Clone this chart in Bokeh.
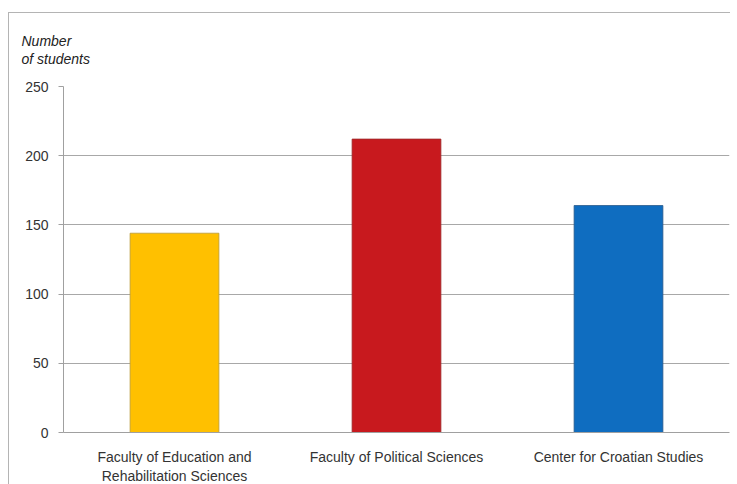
from bokeh.plotting import figure
from bokeh.models import FixedTicker, ColumnDataSource
from bokeh.embed import file_html
from bokeh.resources import INLINE

categories = ["Faculty of Education and\nRehabilitation Sciences",
              "Faculty of Political Sciences",
              "Center for Croatian Studies"]
students = [144, 212, 164]
bar_colors = ["#FFC000", "#C8191E", "#0F6DC0"]
line_colors = ["#B89A3A", "#9A2A2A", "#2A5A8A"]
y_ticks = [0, 50, 100, 150, 200, 250]
y_title = "Number\nof students"

src = ColumnDataSource(dict(cat=categories, n=students, c=bar_colors, lc=line_colors))

p = figure(x_range=categories, y_range=(0, 250), width=722, height=473,
           output_backend="svg", toolbar_location=None, tools="",
           min_border_left=54, min_border_right=2, min_border_top=73, min_border_bottom=52,
           margin=(12, 0, 0, 8), title=y_title)
p.styles = {"border-top": "1px solid #b4b4b4", "border-left": "1px solid #b4b4b4"}

p.vbar(x="cat", top="n", width=0.4, source=src, fill_color="c", line_color="lc", line_width=0.8)

p.title.align = "left"
p.title.vertical_align = "top"
p.title.offset = -42
p.title.standoff = 36
p.title.text_font = "Liberation Sans"
p.title.text_font_style = "italic"
p.title.text_font_size = "14px"
p.title.text_color = "#222222"
p.title.text_line_height = 1.15

p.outline_line_color = None
p.xgrid.grid_line_color = None
p.ygrid.grid_line_color = "#a8a8a8"
p.ygrid.grid_line_width = 1
p.yaxis.ticker = FixedTicker(ticks=y_ticks)

for ax in (p.xaxis, p.yaxis):
    ax.axis_line_color = "#a0a0a0"
    ax.major_label_text_font = "Liberation Sans"
    ax.major_label_text_font_size = "14px"
    ax.major_label_text_color = "#333333"
    ax.minor_tick_line_color = None

p.yaxis.major_tick_line_color = "#a0a0a0"
p.yaxis.major_tick_out = 5
p.yaxis.major_tick_in = 0
p.yaxis.major_label_standoff = 10
p.xaxis.major_tick_line_color = None
p.xaxis.major_label_standoff = 10

open("out.html", "w").write(file_html(p, INLINE))
